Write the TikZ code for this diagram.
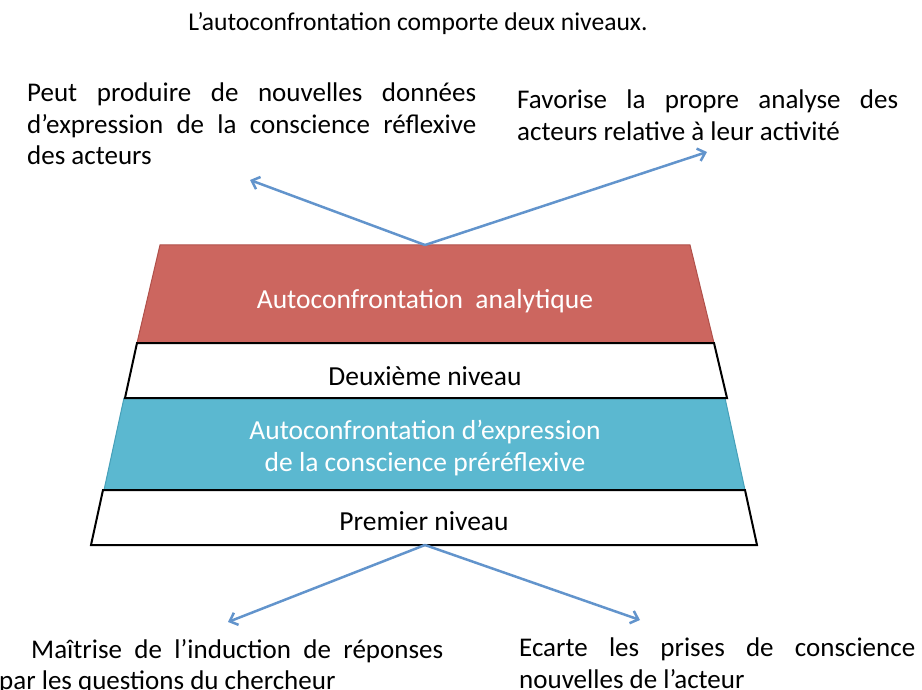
\documentclass[tikz,border=0pt]{standalone}
\usepackage{fontspec}
\setmainfont{Carlito}
\usetikzlibrary{arrows.meta}
\definecolor{redfill}{RGB}{204,102,95}
\definecolor{redline}{RGB}{176,80,74}
\definecolor{bluefill}{RGB}{91,184,208}
\definecolor{blueline}{RGB}{70,160,185}
\definecolor{arrowc}{RGB}{98,148,204}
\begin{document}
\begin{tikzpicture}[x=1pt,y=-1pt,
  bodytext/.style={font=\fontsize{27}{31.5}\selectfont, execute at begin node={\hyphenpenalty=10000\relax\exhyphenpenalty=10000\relax}, inner sep=0pt, anchor=north west, align=justify},
  bandtext/.style={font=\fontsize{27.5}{32}\selectfont, inner sep=0pt, align=center},
  band/.style={draw=black, line width=2pt, fill=white},
  conn/.style={draw=arrowc, line width=2.5pt, -{Straight Barb[length=7pt,width=13pt]}}
]
\useasboundingbox (0,0) rectangle (922,690);

% title
\node[font=\fontsize{25.6}{29}\selectfont, inner sep=0pt] (title) at (418,24) {L’autoconfrontation comporte deux niveaux.};

% levels
\filldraw[fill=redfill, draw=redline, line width=1pt] (160,245) -- (690,245) -- (714,343) -- (137,343) -- cycle;
\filldraw[fill=bluefill, draw=blueline, line width=1pt] (124,398) -- (725,398) -- (745,490) -- (104,490) -- cycle;
\path[band] (137,343) -- (714,343) -- (727,398) -- (125,398) -- cycle;
\path[band] (103,490) -- (745,490) -- (757,545) -- (91,545) -- cycle;

\node[bandtext, text=white] (analytique) at (425,301) {Autoconfrontation\ \ analytique};
\node[bandtext] (deux) at (425,376) {Deuxième niveau};
\node[bandtext, text=white] (prerefl) at (425,448) {Autoconfrontation d’expression\\de la conscience préréflexive};
\node[bandtext] (premier) at (424,521) {Premier niveau};

\coordinate (topc) at (425,245);
\coordinate (botc) at (425,545);

% texts
\node[bodytext, text width=449pt] (tl) at (27,83) {Peut produire de nouvelles données\linebreak d’expression de la conscience réflexive\linebreak des acteurs};
\node[bodytext, text width=381pt] (tr) at (517,90) {Favorise la propre analyse des\linebreak acteurs relative à leur activité};
\node[bodytext, text width=444pt] (bl) at (-1,639) {\hspace*{32pt}Maîtrise de l’induction de réponses\linebreak par les questions du chercheur};
\node[bodytext, text width=396pt] (br) at (519,638) {Ecarte les prises de conscience\linebreak nouvelles de l’acteur};

\coordinate (tlend) at (250,180);
\coordinate (trend) at (707,152);
\coordinate (blend) at (228,622);
\coordinate (brend) at (640,620);

\draw[conn] (topc) -- (tlend);
\draw[conn] (topc) -- (trend);
\draw[conn] (botc) -- (blend);
\draw[conn] (botc) -- (brend);
\end{tikzpicture}
\end{document}
